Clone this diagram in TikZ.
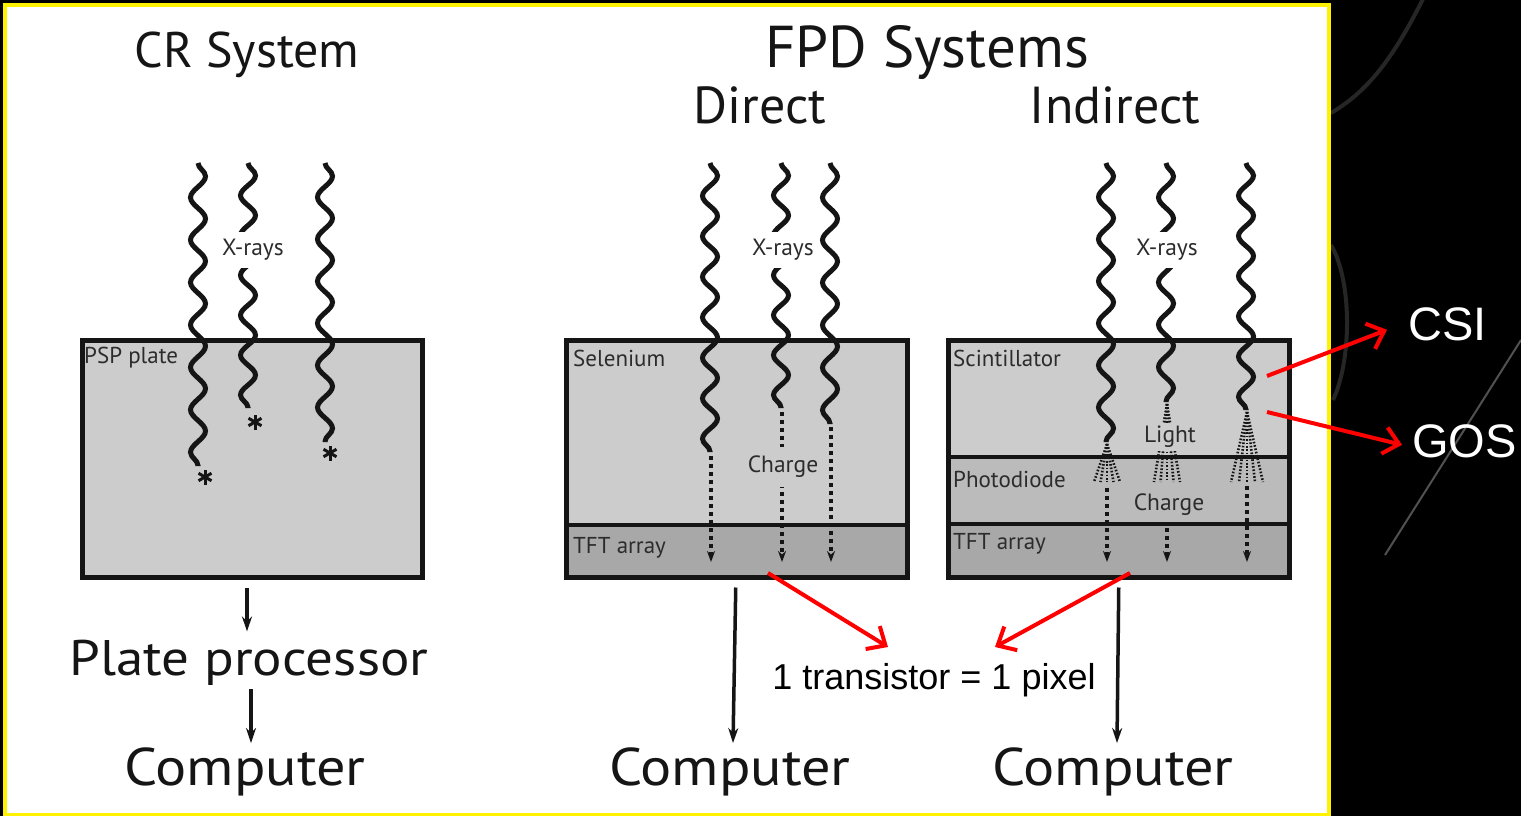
\documentclass[tikz,border=0pt]{standalone}
\usepackage{fontspec}
\usepackage{graphicx}
\setmainfont{PT Sans}
\newfontfamily\arialf{Liberation Sans}
\usetikzlibrary{arrows.meta,decorations.pathmorphing,calc}
\definecolor{boxlight}{HTML}{CCCCCC}
\definecolor{boxmid}{HTML}{BBBBBB}
\definecolor{boxdark}{HTML}{A8A8A8}
\definecolor{ink}{HTML}{151515}
\definecolor{bgcurve}{HTML}{262626}
\newcommand\widetext[1]{\scalebox{1.1}[1]{#1}}
\tikzset{
  heading/.style={font=\fontsize{50}{56}\selectfont, text=ink, inner sep=0pt, anchor=base},
  bigtext/.style={font=\fontsize{50}{56}\selectfont, text=ink, inner sep=0pt, anchor=base},
  boxlabel/.style={font=\fontsize{23}{26}\selectfont, text=ink!90, inner sep=0pt, anchor=west},
  raylabel/.style={font=\fontsize{23.5}{26}\selectfont, text=ink!90, inner xsep=1pt, inner ysep=7pt},
  xray/.style={line width=5pt, draw=ink, decorate, decoration={snake, amplitude=7.5pt, segment length=#1}},
  chargeline/.style={line width=4.5pt, draw=ink, dash pattern=on 3.5pt off 4.5pt, -{Stealth[length=11pt,width=8pt]}},
  flow/.style={line width=3.5pt, draw=ink, -{Stealth[length=15pt,width=10pt]}},
  redarr/.style={line width=4pt, draw=red, -{Straight Barb[length=15pt,width=27pt]}},
  layerline/.style={line width=4.5pt, draw=ink},
  outline/.style={line width=4.5pt, draw=ink, inner sep=0pt, anchor=north west},
  lightray/.style={line width=2.6pt, draw=ink, dash pattern=on 1.6pt off 1.8pt},
  redtext/.style={font=\arialf\fontsize{36}{40}\selectfont, text=black, inner sep=0pt, anchor=base},
  whitetext/.style={font=\arialf\fontsize{47}{52}\selectfont, text=white, inner sep=0pt, anchor=base west},
  astline/.style={line width=3pt, draw=ink},
}
\newcommand\lightfan[4]{%
  \foreach \k in {-2,...,2} {\draw[lightray] (#1,#2) -- ({#1+\k*#4/4},#3);}%
}
\newcommand\astmark[2]{%
  \foreach \a in {90,30,150} {\draw[astline] ($(#1,#2)+(\a:7.5)$) -- ($(#1,#2)-(\a:7.5)$);}%
}
\begin{document}
\begin{tikzpicture}[x=1pt,y=-1pt]
\useasboundingbox (0,0) rectangle (1521,816);
% background
\fill[black] (0,0) rectangle (1521,816);
\draw[bgcurve, line width=4pt] (1425,-5) .. controls (1395,55) and (1370,90) .. (1331,113);
\draw[bgcurve, line width=4pt] (1331,245) .. controls (1352,280) and (1352,360) .. (1333,400);
\draw[bgcurve!80, line width=2pt] (1521,340) -- (1385,555);
\filldraw[fill=white, draw=yellow, line width=4pt] (5,5) rectangle (1329,815);

% headings
\node[heading] (crh) at (247,67) {CR System};
\node[heading, font=\fontsize{59}{64}\selectfont] (fpdh) at (927,68) {FPD Systems};
\node[heading, font=\fontsize{52}{58}\selectfont] (dirh) at (760,123) {Direct};
\node[heading, font=\fontsize{52}{58}\selectfont] (indh) at (1115,123) {Indirect};

% ---------- CR ----------
\fill[boxlight] (80,338) rectangle (420,575);
\draw[xray=42.46pt] (198,163) -- (198,466);
\draw[xray=39.92pt] (248,163) -- (248,408);
\draw[xray=42.04pt] (325,163) -- (325,442);
\node[outline, minimum width=340pt, minimum height=237pt] (psp) at (80,338) {};
\node[raylabel, fill=white] (xr1) at (253,250) {X-rays};
\node[boxlabel] (psplbl) at (84,358) {PSP plate};
\astmark{205}{477}
\astmark{255}{422}
\astmark{330}{453}

% ---------- Direct ----------
\fill[boxlight] (564,338) rectangle (905,525);
\fill[boxdark] (564,525) rectangle (905,575);
\draw[layerline] (564,525) -- (905,525);
\draw[xray=40.49pt] (710,163) -- (710,452);
\draw[xray=39.92pt] (781,163) -- (781,408);
\draw[xray=42.53pt] (830,163) -- (830,424);
\draw[chargeline] (711,456) -- (711,562);
\draw[chargeline] (782,412) -- (782,562);
\draw[chargeline] (831,427) -- (831,562);
\node[outline, minimum width=341pt, minimum height=237pt] (direct) at (564,338) {};
\node[raylabel, fill=white] (xr2) at (783,250) {X-rays};
\node[raylabel, fill=boxlight, inner ysep=9pt] (ch1) at (783,467) {Charge};
\node[boxlabel] (selbl) at (573,358) {Selenium};
\node[boxlabel] (tft1) at (573,548) {TFT array};

% ---------- Indirect ----------
\fill[boxlight] (946,338) rectangle (1287,457);
\fill[boxmid] (946,457) rectangle (1287,524);
\fill[boxdark] (946,524) rectangle (1287,575);
\draw[layerline] (946,457) -- (1287,457);
\draw[layerline] (946,524) -- (1287,524);
\draw[xray=42.04pt] (1106,163) -- (1106,442);
\draw[xray=42.4pt] (1166,163) -- (1166,402);
\draw[xray=40.24pt] (1246,163) -- (1246,410);
\lightfan{1107}{444}{482}{26}
\lightfan{1167}{404}{482}{26}
\lightfan{1247}{412}{482}{32}
\draw[chargeline] (1107,488) -- (1107,562);
\draw[chargeline] (1167,488) -- (1167,562);
\draw[chargeline] (1247,486) -- (1247,562);
\node[outline, minimum width=341pt, minimum height=237pt] (indirect) at (946,338) {};
\node[raylabel, fill=white] (xr3) at (1167,250) {X-rays};
\node[raylabel, fill=boxlight, inner ysep=3pt] (lt) at (1170,437) {Light};
\node[raylabel, fill=boxmid, inner ysep=6pt] (ch2) at (1169,505) {Charge};
\node[boxlabel] (scilbl) at (953,358) {Scintillator};
\node[boxlabel] (phlbl) at (953,479) {Photodiode};
\node[boxlabel] (tft2) at (953,544) {TFT array};

% ---------- bottom flow ----------
\node[bigtext] (pp) at (249,675) {\widetext{Plate processor}};
\node[bigtext, font=\fontsize{53}{58}\selectfont] (comp1) at (245,785) {\widetext{Computer}};
\node[bigtext, font=\fontsize{53}{58}\selectfont] (comp2) at (730,785) {\widetext{Computer}};
\node[bigtext, font=\fontsize{53}{58}\selectfont] (comp3) at (1113,785) {\widetext{Computer}};
\draw[flow] (psp.south -| pp.north) ++(-2,8) -- ([xshift=-2pt,yshift=8pt]pp.north);
\draw[flow] (pp.south) ++(2,4) -- ([xshift=6pt,yshift=4pt]comp1.north);
\draw[flow] (direct.south) ++(-1,8) -- ([xshift=3pt,yshift=4pt]comp2.north);
\draw[flow] (indirect.south) ++(0,8) -- ([xshift=4pt,yshift=4pt]comp3.north);

% ---------- annotations ----------
\node[redtext] (tp) at (934,689) {1 transistor = 1 pixel};
\coordinate (tftD) at (768,573);
\coordinate (tftI) at (1130,573);
\coordinate (tpL) at (888,647);
\coordinate (tpR) at (995,647);
\draw[redarr] (tftD) -- (tpL);
\draw[redarr] (tftI) -- (tpR);

\node[whitetext] (csi) at (1408,340) {CSI};
\node[whitetext] (gos) at (1412,457) {GOS};
\coordinate (scA) at (1267,376);
\coordinate (scB) at (1267,412);
\draw[redarr] (scA) -- ([xshift=-21pt,yshift=-6pt]csi.west);
\draw[redarr] (scB) -- ([xshift=-10pt,yshift=-4pt]gos.west);
\end{tikzpicture}
\end{document}
